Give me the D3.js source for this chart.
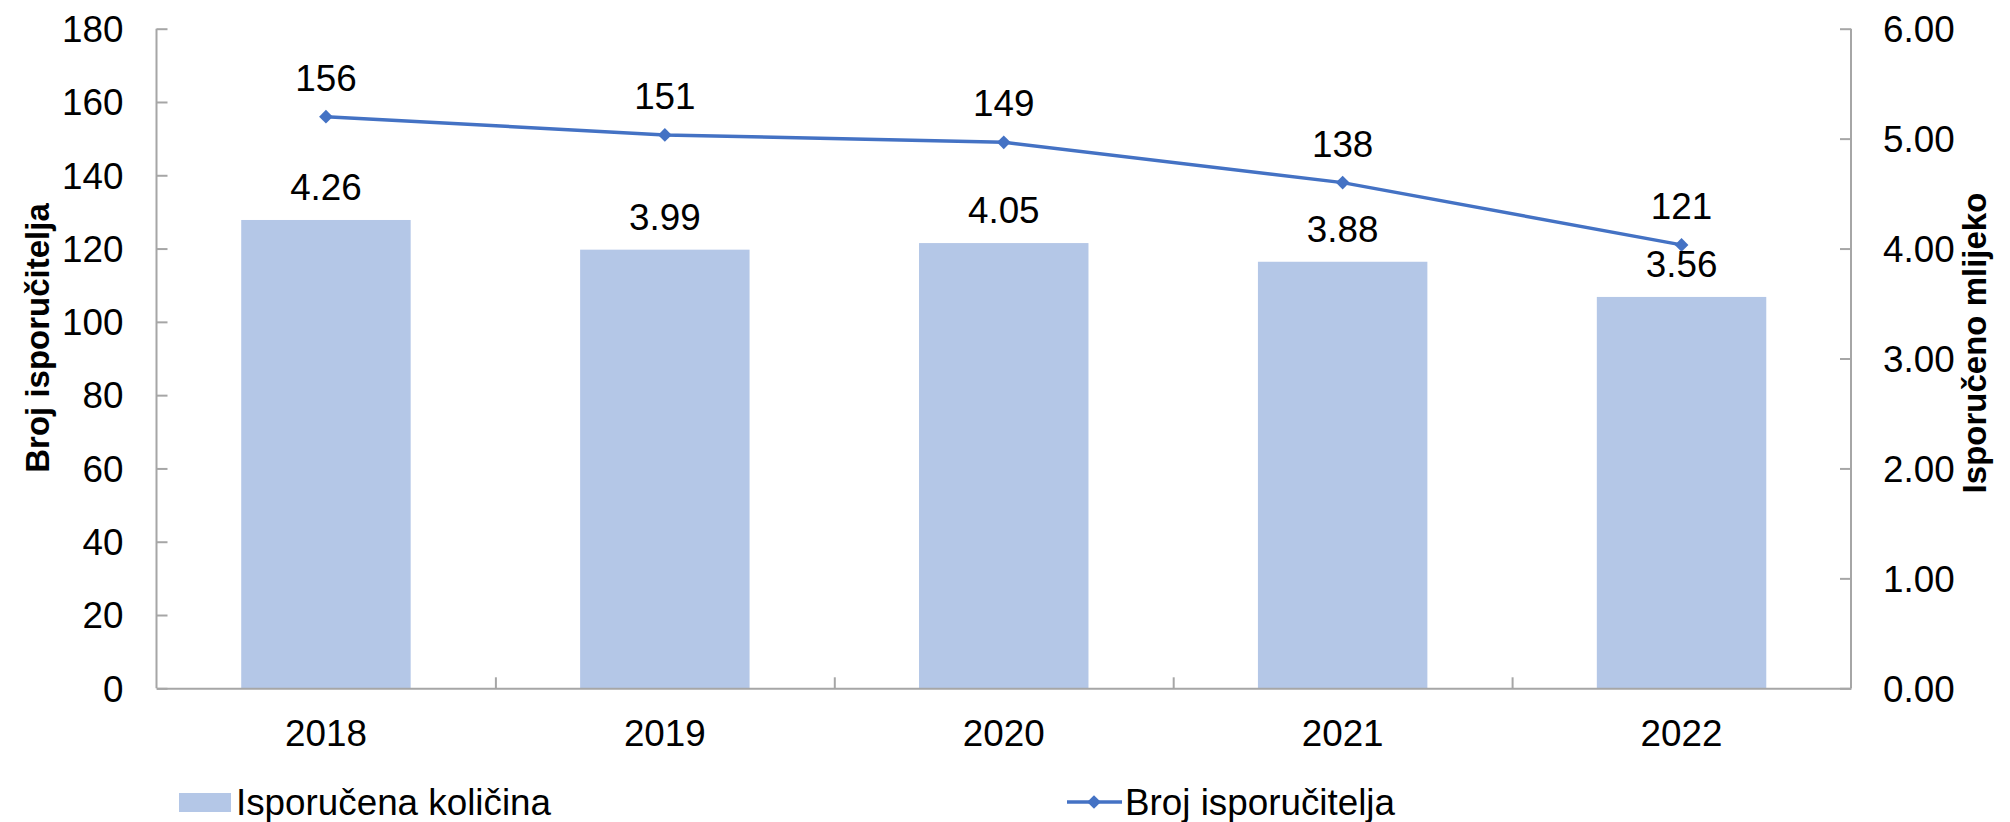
<!DOCTYPE html>
<html><head><meta charset="utf-8">
<script src="https://cdn.jsdelivr.net/npm/d3@7"></script>
<style>body{margin:0;background:#fff}svg{display:block}text{font-family:"Liberation Sans",Arial,sans-serif;fill:#000}</style>
</head><body>
<script>
const years = ["2018","2019","2020","2021","2022"];
const quantity = [4.26, 3.99, 4.05, 3.88, 3.56];
const suppliers = [156, 151, 149, 138, 121];
const leftTicks = [0,20,40,60,80,100,120,140,160,180];
const rightTicks = [0,1,2,3,4,5,6];

const W=2010,H=822;
const m={l:156.5,r:W-1851,t:28.7,b:H-688.3};
const svg=d3.select("body").append("svg").attr("width",W).attr("height",H);
const x=d3.scaleBand().domain(years).range([m.l,W-m.r]).paddingInner(0).paddingOuter(0);
const yL=d3.scaleLinear().domain([0,180]).range([H-m.b,m.t]);
const yR=d3.scaleLinear().domain([0,6]).range([H-m.b,m.t]);
const fs=36.8, tfs=33, axisCol="#a6a6a6", blue="#4472c4";

// bars
svg.selectAll("rect.bar").data(years).join("rect").attr("class","bar")
 .attr("x",d=>x(d)+x.bandwidth()*0.25).attr("width",x.bandwidth()*0.5)
 .attr("y",(d,i)=>yR(quantity[i])).attr("height",(d,i)=>yR(0)-yR(quantity[i]))
 .attr("fill","#b4c7e7");

// axes
const gL=svg.append("g").attr("transform",`translate(${m.l},0)`)
 .call(d3.axisRight(yL).tickValues(leftTicks).tickSize(11).tickFormat(""));
const gR=svg.append("g").attr("transform",`translate(${W-m.r},0)`)
 .call(d3.axisLeft(yR).tickValues(rightTicks).tickSize(11).tickFormat(""));
const bounds=years.slice(1).map(d=>x(d));
const gX=svg.append("g").attr("transform",`translate(0,${H-m.b})`)
 .call(d3.axisTop(d3.scaleLinear().domain([m.l,W-m.r]).range([m.l,W-m.r])).tickValues(bounds).tickSize(11).tickSizeOuter(0).tickFormat(""));
[gL,gR,gX].forEach(g=>{g.selectAll("path,line").attr("stroke",axisCol).attr("stroke-width",2);});
gL.select("path.domain").attr("d",`M0,${m.t}V${H-m.b}`);
gR.select("path.domain").attr("d",`M0,${m.t}V${H-m.b}`);

// tick labels
svg.selectAll("text.tl").data(leftTicks).join("text").attr("class","tl")
 .attr("x",m.l-33).attr("y",d=>yL(d)).attr("dy","0.36em").attr("text-anchor","end")
 .attr("font-size",fs).text(d=>d);
svg.selectAll("text.tr").data(rightTicks).join("text").attr("class","tr")
 .attr("x",1883).attr("y",d=>yR(d)).attr("dy","0.36em").attr("text-anchor","start")
 .attr("font-size",fs).text(d=>d.toFixed(2));
svg.selectAll("text.tx").data(years).join("text").attr("class","tx")
 .attr("x",d=>x(d)+x.bandwidth()/2).attr("y",746).attr("text-anchor","middle")
 .attr("font-size",fs).text(d=>d);

// titles
svg.append("text").attr("transform",`translate(49,338) rotate(-90)`)
 .attr("text-anchor","middle").attr("font-size",tfs).attr("font-weight","bold").text("Broj isporučitelja");
svg.append("text").attr("transform",`translate(1986,343) rotate(-90)`)
 .attr("text-anchor","middle").attr("font-size",tfs).attr("font-weight","bold").text("Isporučeno mlijeko");

// line
const line=d3.line().x((d,i)=>x(years[i])+x.bandwidth()/2).y(d=>yL(d));
svg.append("path").datum(suppliers).attr("d",line).attr("fill","none").attr("stroke",blue).attr("stroke-width",3.5);
svg.selectAll("path.mk").data(suppliers).join("path").attr("class","mk")
 .attr("d",d3.symbol(d3.symbolDiamond2,120)())
 .attr("transform",(d,i)=>`translate(${x(years[i])+x.bandwidth()/2},${yL(d)})`).attr("fill",blue);

// data labels
svg.selectAll("text.bl").data(quantity).join("text").attr("class","bl")
 .attr("x",(d,i)=>x(years[i])+x.bandwidth()/2).attr("y",d=>yR(d)-20).attr("text-anchor","middle")
 .attr("font-size",fs).text(d=>d.toFixed(2));
svg.selectAll("text.ll").data(suppliers).join("text").attr("class","ll")
 .attr("x",(d,i)=>x(years[i])+x.bandwidth()/2).attr("y",d=>yL(d)-26).attr("text-anchor","middle")
 .attr("font-size",fs).text(d=>d);

// legend
svg.append("rect").attr("x",179).attr("y",793).attr("width",52).attr("height",19).attr("fill","#b4c7e7");
svg.append("text").attr("x",236).attr("y",815).attr("font-size",fs).text("Isporučena količina");
svg.append("line").attr("x1",1067).attr("x2",1122).attr("y1",802).attr("y2",802).attr("stroke",blue).attr("stroke-width",3.5);
svg.append("path").attr("d",d3.symbol(d3.symbolDiamond2,120)()).attr("transform","translate(1094,802)").attr("fill",blue);
svg.append("text").attr("x",1125).attr("y",815).attr("font-size",fs).text("Broj isporučitelja");
</script>
</body></html>
